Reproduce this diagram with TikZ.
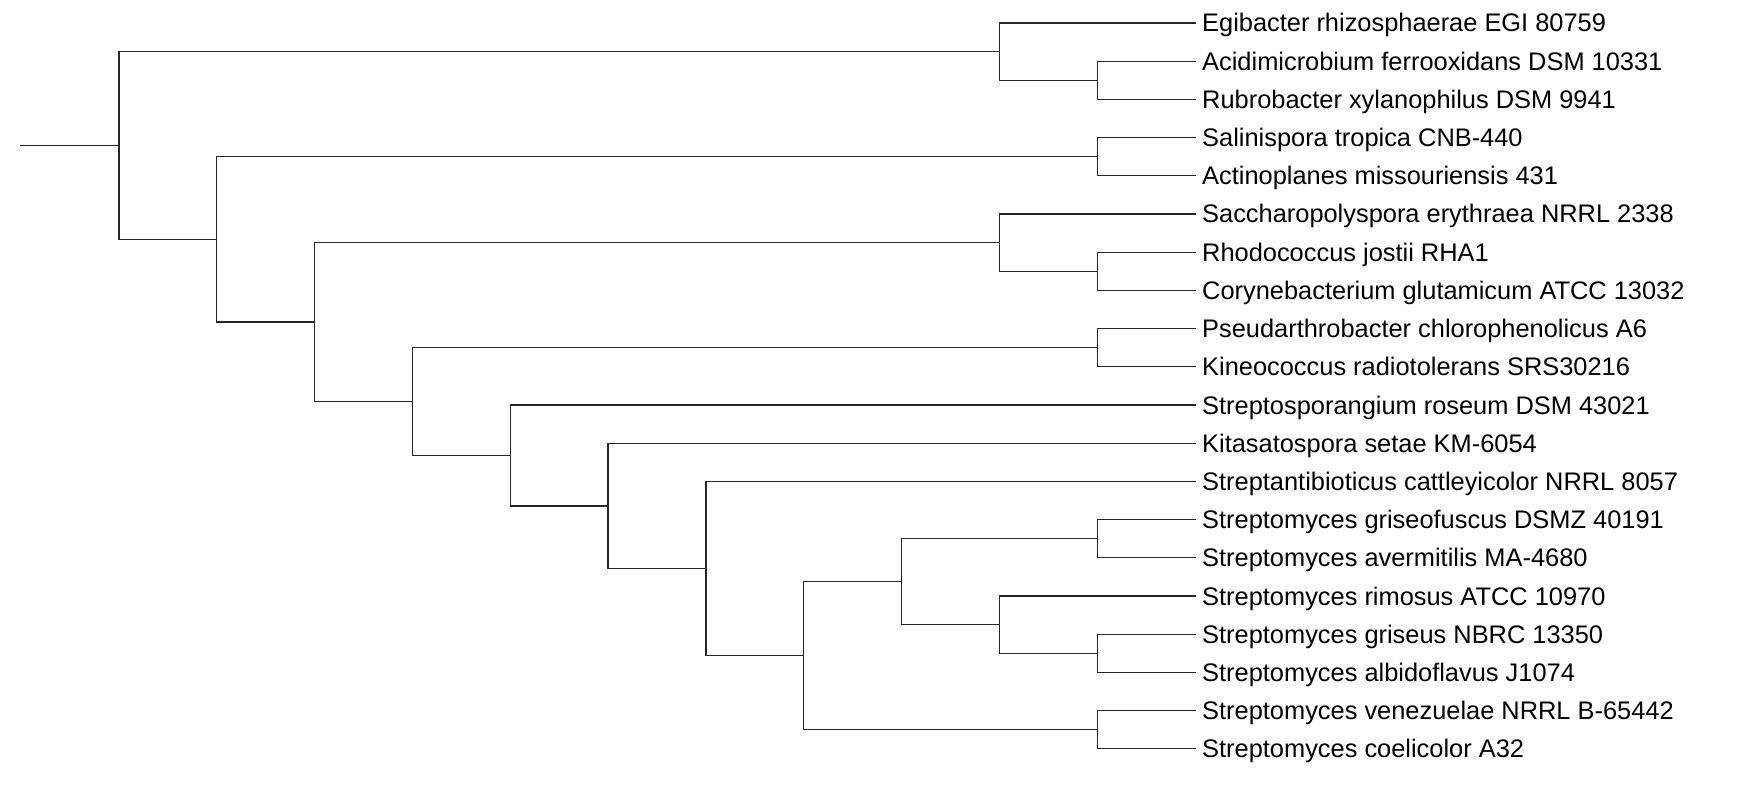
\documentclass[tikz,border=0pt]{standalone}
\usepackage{fontspec}
\setmainfont{Liberation Sans}
\begin{document}
\begin{tikzpicture}[x=1pt,y=-1pt,
  branch/.style={line width=1.3pt, draw=black!85, line cap=rect},
  leaflabel/.style={anchor=base west, inner sep=0pt, font=\fontsize{25.4}{30}\selectfont}]
\useasboundingbox (0,0) rectangle (1748,786);
% leaf tips
\def\LX{1195.2}
\foreach \i/\yy/\txt in {
 1/23.0/Egibacter rhizosphaerae EGI 80759,
 2/61.2/Acidimicrobium ferrooxidans DSM 10331,
 3/99.4/Rubrobacter xylanophilus DSM 9941,
 4/137.6/Salinispora tropica CNB-440,
 5/175.8/Actinoplanes missouriensis 431,
 6/214.0/Saccharopolyspora erythraea NRRL 2338,
 7/252.2/Rhodococcus jostii RHA1,
 8/290.4/Corynebacterium glutamicum ATCC 13032,
 9/328.6/Pseudarthrobacter chlorophenolicus A6,
 10/366.8/Kineococcus radiotolerans SRS30216,
 11/405.0/Streptosporangium roseum DSM 43021,
 12/443.2/Kitasatospora setae KM-6054,
 13/481.4/Streptantibioticus cattleyicolor NRRL 8057,
 14/519.6/Streptomyces griseofuscus DSMZ 40191,
 15/557.8/Streptomyces avermitilis MA-4680,
 16/596.0/Streptomyces rimosus ATCC 10970,
 17/634.2/Streptomyces griseus NBRC 13350,
 18/672.4/Streptomyces albidoflavus J1074,
 19/710.6/Streptomyces venezuelae NRRL B-65442,
 20/748.8/Streptomyces coelicolor A32}{
  \coordinate (l\i) at (\LX,\yy);
  \node[leaflabel] (t\i) at (1202,\yy+9) {\txt};
}
% internal nodes
\coordinate (root) at (21,145.5);
\coordinate (A) at (118.85,145.5);
\coordinate (B) at (999.5,51.65);
\coordinate (C) at (1097.35,80.3);
\coordinate (D) at (216.7,239.4);
\coordinate (E) at (1097.35,156.7);
\coordinate (F) at (314.55,322.11);
\coordinate (G) at (999.5,242.65);
\coordinate (H) at (1097.35,271.3);
\coordinate (I) at (412.4,401.57);
\coordinate (J) at (1097.35,347.7);
\coordinate (K) at (510.25,455.44);
\coordinate (M) at (608.1,505.87);
\coordinate (N) at (705.95,568.54);
\coordinate (P) at (803.8,655.69);
\coordinate (Q) at (901.65,581.675);
\coordinate (S) at (1097.35,538.7);
\coordinate (T) at (999.5,624.65);
\coordinate (U) at (1097.35,653.3);
\coordinate (R) at (1097.35,729.7);
% branches
\draw[branch] (root) -- (A);
\draw[branch] (A) |- (B);  \draw[branch] (A) |- (D);
\draw[branch] (B) |- (l1); \draw[branch] (B) |- (C);
\draw[branch] (C) |- (l2); \draw[branch] (C) |- (l3);
\draw[branch] (D) |- (E);  \draw[branch] (D) |- (F);
\draw[branch] (E) |- (l4); \draw[branch] (E) |- (l5);
\draw[branch] (F) |- (G);  \draw[branch] (F) |- (I);
\draw[branch] (G) |- (l6); \draw[branch] (G) |- (H);
\draw[branch] (H) |- (l7); \draw[branch] (H) |- (l8);
\draw[branch] (I) |- (J);  \draw[branch] (I) |- (K);
\draw[branch] (J) |- (l9); \draw[branch] (J) |- (l10);
\draw[branch] (K) |- (l11); \draw[branch] (K) |- (M);
\draw[branch] (M) |- (l12); \draw[branch] (M) |- (N);
\draw[branch] (N) |- (l13); \draw[branch] (N) |- (P);
\draw[branch] (P) |- (Q);  \draw[branch] (P) |- (R);
\draw[branch] (Q) |- (S);  \draw[branch] (Q) |- (T);
\draw[branch] (S) |- (l14); \draw[branch] (S) |- (l15);
\draw[branch] (T) |- (l16); \draw[branch] (T) |- (U);
\draw[branch] (U) |- (l17); \draw[branch] (U) |- (l18);
\draw[branch] (R) |- (l19); \draw[branch] (R) |- (l20);
\end{tikzpicture}
\end{document}
